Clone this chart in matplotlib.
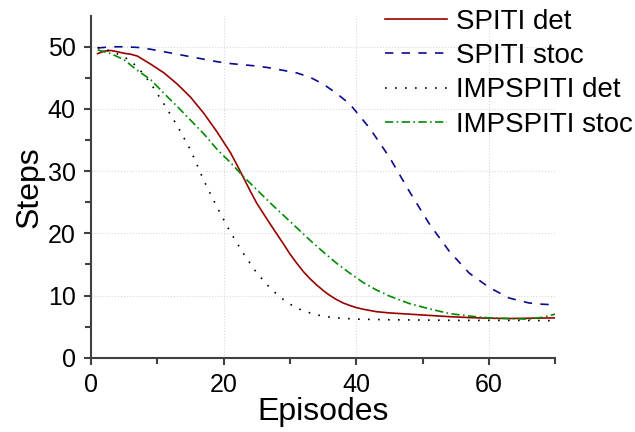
import numpy as np
import matplotlib
matplotlib.use("Agg")
import matplotlib.pyplot as plt

plt.rcParams['font.family'] = ['Liberation Sans', 'DejaVu Sans']

# episodes / steps
ep_spiti_det = [1, 2, 3, 4, 5, 6, 7, 9, 11, 13, 15, 17, 19, 21, 22, 23, 24, 25, 27, 29, 30,
                31, 32, 33, 34, 35, 36, 37, 38, 39, 40, 41, 43, 45, 48, 51, 54, 57, 60, 63,
                66, 70]
spiti_det = [48.9, 49.3, 49.4, 49.2, 48.95, 48.8, 48.5, 47.2, 45.8, 44.0, 41.9, 39.3, 36.3,
             33.0, 31.0, 28.9, 26.8, 24.8, 21.5, 18.3, 16.65, 15.2, 13.85, 12.7, 11.7, 10.8,
             10.0, 9.35, 8.8, 8.4, 8.05, 7.8, 7.4, 7.2, 7.0, 6.8, 6.6, 6.45, 6.35, 6.3,
             6.35, 6.4]

ep_spiti_stoc = [1, 3, 5, 7, 9, 11, 13, 15, 17, 19, 21, 23, 25, 27, 29, 31, 33, 35, 37, 39,
                 42, 45, 48, 51, 54, 57, 60, 63, 66, 68, 70]
spiti_stoc = [49.8, 50.0, 50.0, 49.9, 49.6, 49.2, 48.8, 48.4, 48.0, 47.6, 47.3, 47.1, 46.9,
              46.6, 46.2, 45.8, 45.1, 44.0, 42.5, 40.8, 36.9, 32.2, 26.7, 21.5, 17.1, 13.6,
              11.3, 9.6, 8.8, 8.6, 8.5]

ep_imp_det = [1, 3, 5, 7, 9, 11, 13, 15, 17, 19, 21, 23, 25, 27, 28, 29, 30, 31, 32, 33,
              35, 37, 40, 45, 50, 55, 60, 65, 70]
imp_det = [49.9, 49.3, 48.4, 46.8, 44.1, 40.8, 37.3, 33.4, 28.5, 24.2, 20.2, 16.7, 13.6,
           11.2, 10.2, 9.35, 8.6, 8.0, 7.55, 7.2, 6.65, 6.4, 6.2, 6.1, 6.05, 6.0, 6.0,
           6.0, 5.95]

ep_imp_stoc = [1, 3, 5, 7, 9, 11, 13, 15, 17, 19, 21, 23, 25, 27, 29, 31, 33, 35, 37, 39,
               41, 43, 45, 48, 51, 54, 57, 60, 63, 66, 68, 70]
imp_stoc = [49.5, 48.9, 47.9, 46.2, 44.7, 42.5, 40.4, 38.2, 36.0, 33.5, 31.4, 29.1, 27.0,
            24.9, 22.9, 20.9, 18.9, 17.0, 15.2, 13.6, 12.1, 10.9, 9.9, 8.7, 7.85, 7.1, 6.7,
            6.4, 6.3, 6.2, 6.5, 7.0]

fig = plt.figure(figsize=(6.35, 4.32), dpi=100)
ax = fig.add_axes([0.1433, 0.172, 0.7315, 0.7917])

ax.plot(ep_spiti_det, spiti_det, color='#990000', lw=1.2, label='SPITI det')
ax.plot(ep_spiti_stoc, spiti_stoc, color='#0a0a8c', lw=1.2, dashes=(5, 5), label='SPITI stoc')
ax.plot(ep_imp_det, imp_det, color='black', lw=1.2, dashes=(1, 5), label='IMPSPITI det')
ax.plot(ep_imp_stoc, imp_stoc, color='#008a00', lw=1.2, dashes=(5, 2, 1, 2), label='IMPSPITI stoc')

ax.set_xlim(0, 70)
ax.set_ylim(0, 55)
ax.set_xticks([0, 20, 40, 60])
ax.set_xticks([10, 30, 50, 70], minor=True)
ax.set_yticks([0, 10, 20, 30, 40, 50])
ax.set_yticks([5, 15, 25, 35, 45], minor=True)
ax.grid(True, which='major', color='#d8d8d8', ls=':', lw=0.8)

for s in ['top', 'right']:
    ax.spines[s].set_visible(False)
for s in ['left', 'bottom']:
    ax.spines[s].set_color('#404040')
    ax.spines[s].set_linewidth(1.5)
ax.tick_params(which='both', direction='out', color='#404040', width=1.5, labelsize=18)
ax.tick_params(which='major', length=5, pad=6)
ax.tick_params(which='minor', length=4)

ax.set_xlabel('Episodes', fontsize=23, labelpad=0)
ax.set_ylabel('Steps', fontsize=23, labelpad=2)

fig.legend(loc='upper left', bbox_to_anchor=(0.606, 0.98), frameon=False, fontsize=20,
           handlelength=2.25, handletextpad=0.33, labelspacing=0.3, borderpad=0,
           borderaxespad=0)

fig.savefig('out.png', dpi=100)
